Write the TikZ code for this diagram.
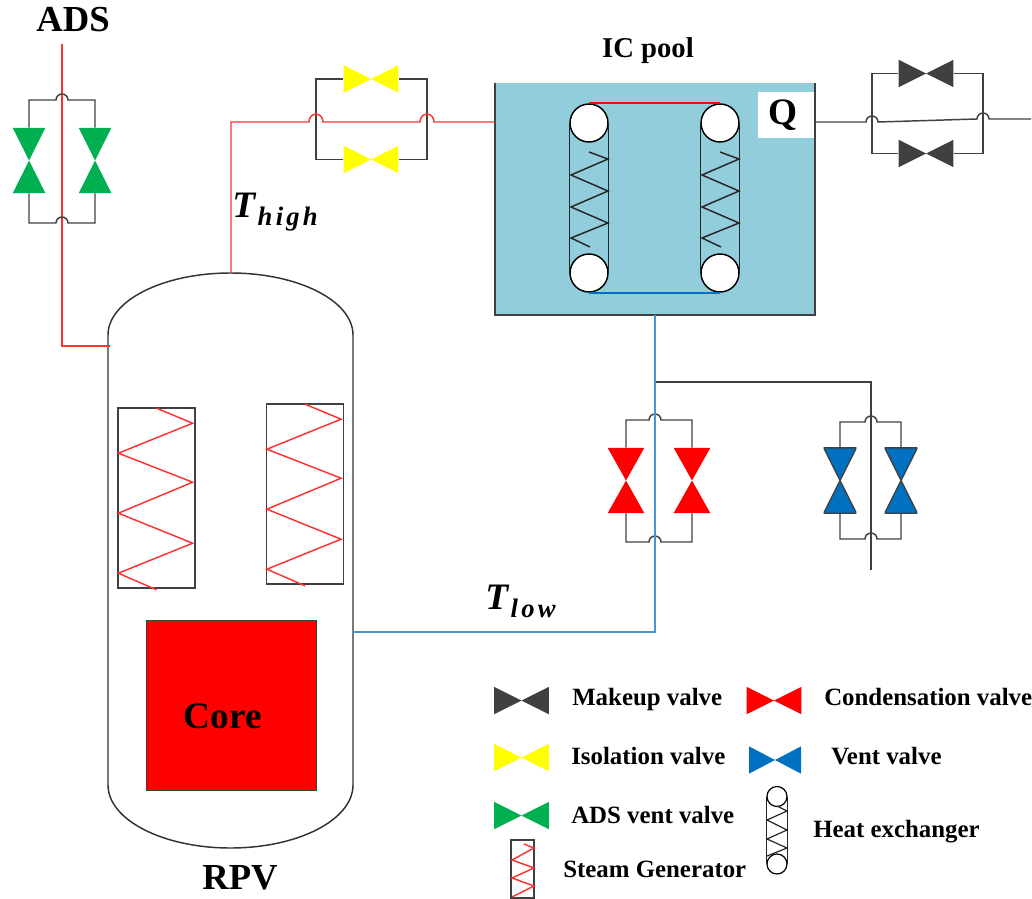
\documentclass[tikz,border=0pt]{standalone}
\usepackage{fontspec}
\setmainfont{Liberation Serif}
\definecolor{PoolBlue}{RGB}{146, 205, 220}
\definecolor{ValveDark}{RGB}{64, 64, 64}
\definecolor{ValveYellow}{RGB}{255, 255, 0}
\definecolor{ValveGreen}{RGB}{0, 176, 80}
\definecolor{ValveRed}{RGB}{255, 0, 0}
\definecolor{ValveBlue}{RGB}{0, 112, 192}
\definecolor{PipeRed}{RGB}{255, 50, 50}
\definecolor{PipeBlue}{RGB}{70, 150, 215}
\usetikzlibrary{calc}

\tikzset{
    pipe/.style={line width=1.1pt, draw=ValveDark},
    hotpipe/.style={line width=1.1pt, draw=PipeRed},
    coldpipe/.style={line width=1.1pt, draw=PipeBlue},
    coil/.style={line width=1.1pt, draw=black!85},
    hvalve/.style={minimum width=41pt, minimum height=20.5pt, inner sep=0pt, path picture={
        \fill[#1] (path picture bounding box.north west) -- (path picture bounding box.center) -- (path picture bounding box.south west) -- cycle;
        \fill[#1] (path picture bounding box.north east) -- (path picture bounding box.center) -- (path picture bounding box.south east) -- cycle;}},
    vvalve/.style={minimum width=#1, minimum height=49pt, inner sep=0pt},
    vvalvefill/.style={path picture={
        \fill[#1] (path picture bounding box.north west) -- (path picture bounding box.center) -- (path picture bounding box.north east) -- cycle;
        \fill[#1] (path picture bounding box.south west) -- (path picture bounding box.center) -- (path picture bounding box.south east) -- cycle;}},
    ventfill/.style={path picture={
        \filldraw[fill=ValveBlue, draw=ValveDark, line width=1pt] (path picture bounding box.north west) -- (path picture bounding box.center) -- (path picture bounding box.north east) -- cycle;
        \filldraw[fill=ValveBlue, draw=ValveDark, line width=1pt] (path picture bounding box.south west) -- (path picture bounding box.center) -- (path picture bounding box.south east) -- cycle;}},
    sgbox/.style={draw=ValveDark, line width=1.2pt, minimum width=57.5pt, minimum height=135pt, inner sep=0pt},
    hxball/.style={circle, draw=black, fill=white, line width=1.1pt, minimum size=28.5pt, inner sep=0pt},
    hxsmall/.style={circle, draw=black, fill=white, line width=0.9pt, minimum size=15pt, inner sep=0pt},
    legend/.style={font=\fontsize{18.65pt}{20pt}\selectfont\bfseries, anchor=west, inner sep=0pt},
    biglabel/.style={font=\fontsize{27.5pt}{30pt}\selectfont\bfseries, inner sep=0pt},
}

\begin{document}
\begin{tikzpicture}[x=0.75pt, y=-0.75pt]
    \useasboundingbox (0,0) rectangle (1032,899);

    % vessel
    \draw[pipe, draw=black!80] (108,785) -- (108,335) arc[start angle=180, end angle=360, x radius=122.5, y radius=62] -- (353,785) arc[start angle=0, end angle=-180, x radius=122.5, y radius=-63] -- cycle;
    \coordinate (rpvTop) at (231,273);
    \coordinate (rpvSide) at (110,346);
    \coordinate (rpvCold) at (353,632);
    \node[biglabel] (rpvLabel) at (240,878) {RPV};
    \node[draw=ValveDark, fill=ValveRed, minimum width=127.5pt, minimum height=127.5pt, inner sep=0pt] (core) at (231,705) {};
    \node[inner sep=0pt, font=\fontsize{28pt}{30pt}\selectfont\bfseries] (coreLabel) at (223,716) {Core};

    % steam generators
    \node[sgbox] (sgA) at (156.5,498) {};
    \node[sgbox] (sgB) at (305,494) {};
    \foreach \sg in {sgA, sgB} {
        \draw[hotpipe] ($(\sg.north)+(0,1)$) -- ($(\sg.north east)+(-3,16)$) -- ($(\sg.north west)+(1,46)$) -- ($(\sg.north east)+(-3,75)$) -- ($(\sg.north west)+(1,106)$) -- ($(\sg.north east)+(-3,136)$) -- ($(\sg.north west)+(1,166)$) -- ($(\sg.south)+(0,1)$);
    }

    % IC pool
    \node[fill=PoolBlue, minimum width=240pt, minimum height=174pt, inner sep=0pt] (pool) at (655,199) {};
    \draw[line width=1.3pt, draw=ValveDark] (pool.north west) -- (pool.south west) -- (pool.south east) -- (pool.north east);
    \node[font=\fontsize{21.5pt}{24pt}\selectfont\bfseries, inner sep=0pt] (poolLabel) at (648,50.5) {IC pool};
    \node[fill=white, minimum width=42pt, minimum height=34.5pt, inner sep=0pt, anchor=north east] (heatQ) at (814,92) {};
    \node[font=\fontsize{28pt}{30pt}\selectfont\bfseries, inner sep=0pt] (heatLabel) at (783,115) {Q};

    % heat exchangers
    \foreach \hx/\xx in {hxA/589, hxB/720} {
        \node[hxball] (\hx top) at (\xx,123) {};
        \node[hxball] (\hx bot) at (\xx,273) {};
        \draw[coil] (\hx top.west) -- (\hx bot.west);
        \draw[coil] (\hx top.east) -- (\hx bot.east);
        \draw[coil] (\xx,152) -- ++(19,7) -- ++(-37,16) -- ++(37,16) -- ++(-37,16) -- ++(37,16) -- ++(-37,15) -- ++(19,9);
    }
    \draw[line width=1.4pt, draw=ValveRed] (hxAtop.north) -- (hxBtop.north);
    \draw[line width=1.2pt, draw=ValveBlue] (hxAbot.south) -- (hxBbot.south);

    % ADS line
    \coordinate (adsEnd) at (62,44);
    \node[biglabel] (adsLabel) at (73,20) {ADS};
    \node[vvalve=24.5pt, vvalvefill=ValveGreen] (adsA) at (29,160.5) {};
    \node[vvalve=24.5pt, vvalvefill=ValveGreen] (adsB) at (95,160.5) {};
    \draw[hotpipe] (adsEnd) |- (rpvSide);
    \draw[pipe] (adsA.north) |- (56,100) arc[start angle=180, end angle=360, radius=6] -| (adsB.north);
    \draw[pipe] (adsA.south) |- (56,223) arc[start angle=180, end angle=360, radius=6] -| (adsB.south);

    % hot leg with isolation valves
    \node[hvalve=ValveYellow] (isoA) at (371,79) {};
    \node[hvalve=ValveYellow] (isoB) at (371,159.5) {};
    \draw[pipe] (isoA.west) -| (316,120) |- (isoB.west);
    \draw[pipe] (isoA.east) -| (427,120) |- (isoB.east);
    \draw[hotpipe] (rpvTop) |- (309,122) arc[start angle=180, end angle=360, x radius=7, y radius=8] -- (420,122) arc[start angle=180, end angle=360, x radius=7, y radius=8] -- (pool.west |- 0,122);
    \node[inner sep=0pt, anchor=west, font=\fontsize{28pt}{30pt}\selectfont\bfseries\itshape] (tHigh) at (232,212) {T\raisebox{-6pt}{\hspace{2pt}\fontsize{20pt}{22pt}\selectfont\addfontfeatures{LetterSpace=12}high}};

    % makeup valves
    \node[hvalve=ValveDark] (mkA) at (926,73.5) {};
    \node[hvalve=ValveDark] (mkB) at (926,153.5) {};
    \draw[pipe] (mkA.west) -| (872,120) |- (mkB.west);
    \draw[pipe] (mkA.east) -| (983,120) |- (mkB.east);
    \draw[pipe] (heatQ.east |- 0,122) -- (866,122) arc[start angle=180, end angle=360, radius=6] -- (977,119) arc[start angle=180, end angle=360, radius=6] -- (1031,119);

    % cold leg with condensation and vent valves
    \coordinate (teeCold) at (655,382);
    \node[vvalve=27.5pt, vvalvefill=ValveRed] (conA) at (626,480.5) {};
    \node[vvalve=27.5pt, vvalvefill=ValveRed] (conB) at (692,480.5) {};
    \node[vvalve=24.5pt, ventfill] (ventA) at (840,480.5) {};
    \node[vvalve=24.5pt, ventfill] (ventB) at (901,480.5) {};
    \draw[pipe] (conA.north) |- (649,420) arc[start angle=180, end angle=360, radius=6] -| (conB.north);
    \draw[pipe] (conA.south) |- (649,542) arc[start angle=180, end angle=360, radius=6] -| (conB.south);
    \draw[pipe] (ventA.north) |- (865,422) arc[start angle=180, end angle=360, radius=6] -| (ventB.north);
    \draw[pipe] (ventA.south) |- (865,539) arc[start angle=180, end angle=360, radius=6] -| (ventB.south);
    \coordinate (ventEnd) at (871,570);
    \draw[pipe] (teeCold) -| (ventEnd);
    \draw[coldpipe] (pool.south) -- (655,632) -- (rpvCold);
    \node[inner sep=0pt, anchor=west, font=\fontsize{28pt}{30pt}\selectfont\bfseries\itshape] (tLow) at (485,601) {T\raisebox{-6pt}{\hspace{2pt}\fontsize{20pt}{22pt}\selectfont\addfontfeatures{LetterSpace=12}low}};

    % legend
    \node[hvalve=ValveDark] (keyMk) at (521.5,700.5) {};
    \node[hvalve=ValveRed] (keyCon) at (774,700.5) {};
    \node[hvalve=ValveYellow] (keyIso) at (521.5,757.5) {};
    \node[hvalve=ValveBlue, minimum width=39pt] (keyVent) at (775,760) {};
    \node[hvalve=ValveGreen] (keyAds) at (521.5,815.5) {};
    \node[legend] (txtMk) at (572,700) {Makeup valve};
    \node[legend] (txtCon) at (824,697) {Condensation valve};
    \node[legend] (txtIso) at (571,756) {Isolation valve};
    \node[legend] (txtVent) at (831,756) {Vent valve};
    \node[legend] (txtAds) at (571,815) {ADS vent valve};
    \node[legend] (txtHx) at (813,832) {Heat exchanger};
    \node[legend] (txtSg) at (563,869) {Steam Generator};

    \node[draw=ValveDark, line width=1.1pt, minimum width=17pt, minimum height=43.5pt, inner sep=0pt] (keySg) at (522.5,869) {};
    \draw[hotpipe] (524,844) -- (534,848) -- (512,860) -- (534,868) -- (512,878) -- (534,886) -- (512,897);
    \node[hxsmall] (keyHxTop) at (777,796.5) {};
    \node[hxsmall] (keyHxBot) at (777,864) {};
    \draw[line width=0.9pt, draw=black!85] (keyHxTop.west) -- (keyHxBot.west);
    \draw[line width=0.9pt, draw=black!85] (keyHxTop.east) -- (keyHxBot.east);
    \draw[line width=0.9pt, draw=black!85] (777,806) -- (787,811) -- (767,820) -- (787,830) -- (767,839) -- (787,848) -- (767,856);
\end{tikzpicture}
\end{document}
